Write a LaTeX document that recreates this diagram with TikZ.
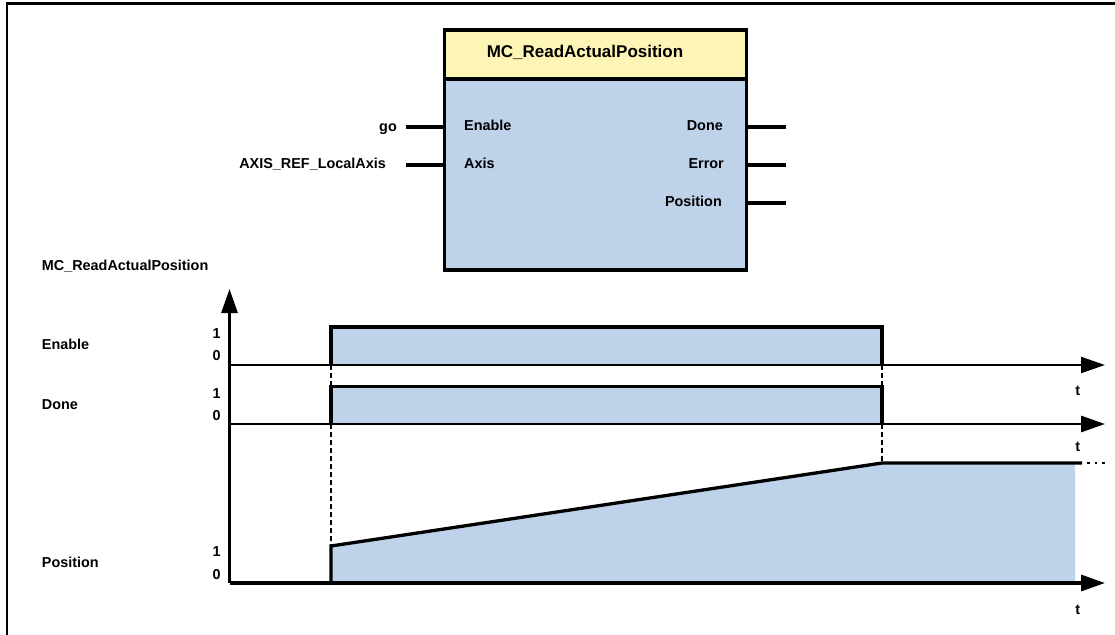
\documentclass[tikz,border=0pt]{standalone}
\usepackage{fontspec}
\setmainfont{Liberation Sans}
\usetikzlibrary{arrows.meta}
\definecolor{hdr}{HTML}{FDF5B5}
\definecolor{sig}{HTML}{BED2EA}
\tikzset{
  lbl/.style={inner sep=0pt, font=\fontsize{14.4}{16}\selectfont\bfseries},
  ttl/.style={inner sep=0pt, font=\fontsize{17}{20}\selectfont\bfseries},
  thickline/.style={line width=3.3pt},
  axisline/.style={line width=2.9pt},
  dashline/.style={line width=2.4pt, dash pattern=on 5pt off 3pt},
  tarrow/.style={-{Triangle[length=24pt,width=16pt]}},
}
\begin{document}
\begin{tikzpicture}[x=1pt,y=-1pt]
\useasboundingbox (0,0) rectangle (1115,634);
% frame
\draw[line width=2.4pt] (7,640) -- (7,3.5) -- (1120,3.5);
% function block
\draw[thickline, fill=hdr] (444.3,30) rectangle (746.7,79);
\draw[thickline, fill=sig] (444.3,79) rectangle (746.7,270);
\node[ttl, anchor=base] (title) at (585,57.3) {MC\_ReadActualPosition};
\node[lbl, anchor=base west] (pEn) at (464,130.7) {Enable};
\node[lbl, anchor=base west] (pAx) at (464,168.3) {Axis};
\node[lbl, anchor=base east] (pDo) at (723,130.7) {Done};
\node[lbl, anchor=base east] (pEr) at (724,168.3) {Error};
\node[lbl, anchor=base east] (pPo) at (722,206.7) {Position};
\node[lbl, anchor=base east] (go) at (397,131.7) {go};
\node[lbl, anchor=base east] (ax) at (386,168.3) {AXIS\_REF\_LocalAxis};
\coordinate (inA1) at (406,127); \coordinate (inB1) at (444.3,127);
\coordinate (inA2) at (406,165); \coordinate (inB2) at (444.3,165);
\coordinate (oA1) at (746.7,127); \coordinate (oB1) at (786,127);
\coordinate (oA2) at (746.7,165); \coordinate (oB2) at (786,165);
\coordinate (oA3) at (746.7,203); \coordinate (oB3) at (786,203);
\draw[thickline] (inA1) -- (inB1);
\draw[thickline] (inA2) -- (inB2);
\draw[thickline] (oA1) -- (oB1);
\draw[thickline] (oA2) -- (oB2);
\draw[thickline] (oA3) -- (oB3);
% left labels
\node[lbl, anchor=base west] (hd) at (41.7,270) {MC\_ReadActualPosition};
\node[lbl, anchor=base west] (lEn) at (41.7,349) {Enable};
\node[lbl, anchor=base west] (lDo) at (41.7,409) {Done};
\node[lbl, anchor=base west] (lPo) at (41.7,567.3) {Position};
\node[lbl, anchor=base] (e1) at (216.7,338.3) {1};
\node[lbl, anchor=base] (e0) at (216.7,360) {0};
\node[lbl, anchor=base] (d1) at (216.7,398.3) {1};
\node[lbl, anchor=base] (d0) at (216.7,420) {0};
\node[lbl, anchor=base] (p1) at (216.7,556.7) {1};
\node[lbl, anchor=base] (p0) at (216.7,579.3) {0};
\node[lbl, anchor=base] (t1) at (1077.7,395) {t};
\node[lbl, anchor=base] (t2) at (1077.7,451.7) {t};
\node[lbl, anchor=base] (t3) at (1077.7,614) {t};
% signals
\fill[sig] (331,365) rectangle (882,327);
\fill[sig] (331,424) rectangle (882,386.7);
\fill[sig] (331,583) -- (331,546) -- (882,463) -- (1075,463) -- (1075,583) -- cycle;
\draw[thickline, line join=miter] (331,365) -- (331,327) -- (882,327) -- (882,365);
\draw[thickline, line join=miter] (331,424) -- (331,386.7) -- (882,386.7) -- (882,424);
\draw[thickline, line join=miter] (331,583) -- (331,546) -- (882,463) -- (1082,463);
\draw[line width=2.4pt, dash pattern=on 2.5pt off 5pt] (1087,463) -- (1106,463);
% dashed guides
\draw[dashline] (331,365) -- (331,386.7);
\draw[dashline] (331,424) -- (331,546);
\draw[dashline] (882,365) -- (882,386.7);
\draw[dashline] (882,424) -- (882,463);
% axes
\coordinate (org) at (229.5,583);
\coordinate (ytop) at (229.5,289);
\draw[axisline, tarrow] (org) -- (ytop);
\coordinate (eb0) at (229.5,365); \coordinate (eb1) at (1105,365);
\coordinate (db0) at (229.5,424); \coordinate (db1) at (1105,424);
\coordinate (pb1) at (1105,583);
\draw[line width=2.2pt, tarrow] (eb0) -- (eb1);
\draw[axisline, tarrow] (db0) -- (db1);
\draw[thickline, tarrow] (org) -- (pb1);
\end{tikzpicture}
\end{document}
